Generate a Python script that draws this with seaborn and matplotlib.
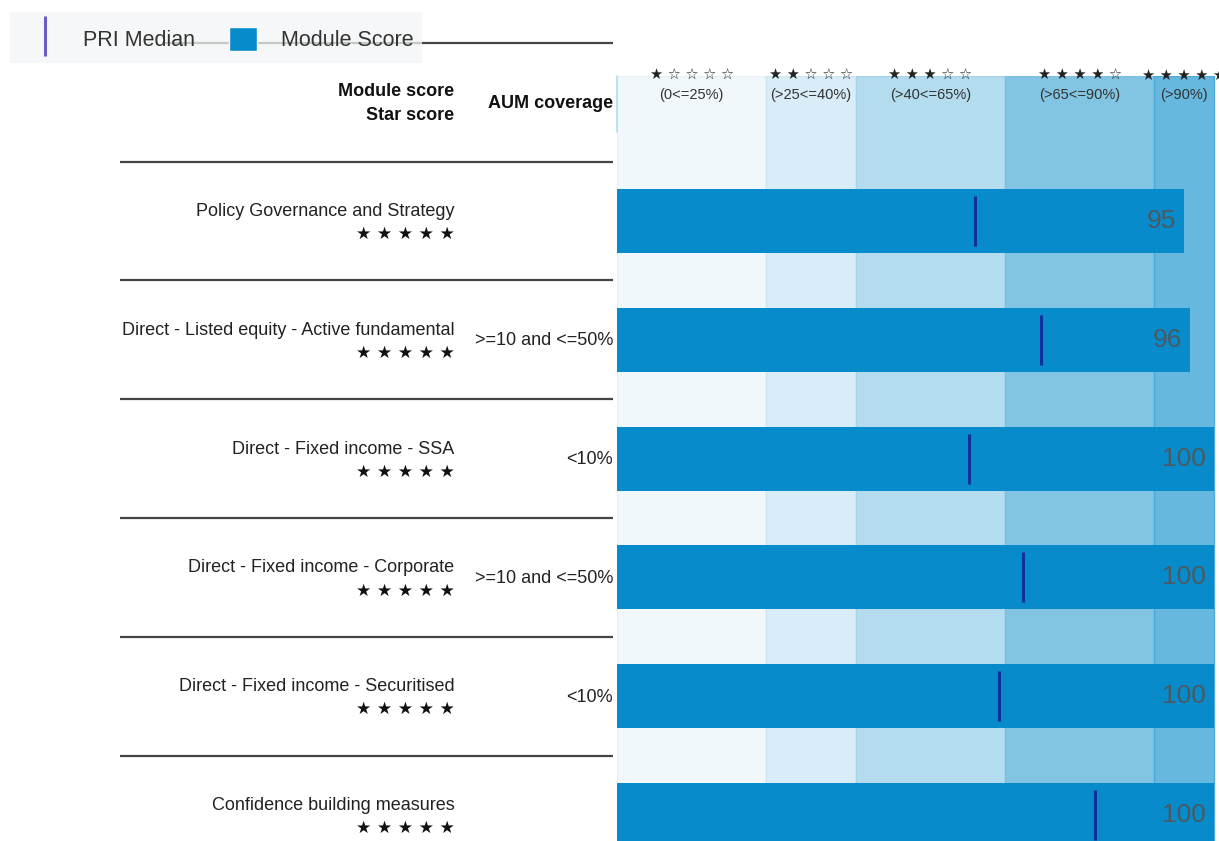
import numpy as np
import pandas as pd
import matplotlib.pyplot as plt
import seaborn as sns
from matplotlib.lines import Line2D
from matplotlib.patches import Patch, Rectangle

# ----- data -----
modules = [
    "Policy Governance and Strategy",
    "Direct - Listed equity - Active fundamental",
    "Direct - Fixed income - SSA",
    "Direct - Fixed income - Corporate",
    "Direct - Fixed income - Securitised",
    "Confidence building measures",
]
scores = [95, 96, 100, 100, 100, 100]
pri_median = [60, 71, 59, 68, 64, 80]
star_counts = [5, 5, 5, 5, 5, 5]
aum_coverage = ["", ">=10 and <=50%", "<10%", ">=10 and <=50%", "<10%", ""]

band_edges = [0, 25, 40, 65, 90, 100]
band_labels = ["(0<=25%)", "(>25<=40%)", "(>40<=65%)", "(>65<=90%)", "(>90%)"]
band_colors = ["#f1f8fc", "#d8edf7", "#b3ddee", "#82c5e3", "#66b8de"]
band_edge_colors = ["#e4f1f9", "#cbe6f3", "#a3d4ea", "#78bfe0", "#4eaad8"]

bar_color = "#078bca"
median_color = "#12309c"
legend_line_color = "#6a5fc0"


def star_string(n, sep=" "):
    return sep.join(["\u2605"] * n + ["\u2606"] * (5 - n))


sns.set_style("white")
plt.rcParams["font.family"] = ["Liberation Sans", "DejaVu Sans"]

W, H = 1219, 841
fig = plt.figure(figsize=(W / 100, H / 100), dpi=100)
ax = fig.add_axes([617 / W, 0, (W - 617) / W, (H - 76) / H])

# background star bands
for lo, hi, c, ec in zip(band_edges[:-1], band_edges[1:], band_colors, band_edge_colors):
    ax.axvspan(lo, hi, facecolor=c, edgecolor=ec, lw=1, zorder=0)

# module score bars
df = pd.DataFrame({"module": modules, "score": scores})
sns.barplot(data=df, x="score", y="module", orient="h", color=bar_color,
            saturation=1, width=0.54, linewidth=0, ax=ax, zorder=2)

ys = np.arange(len(modules))
ax.vlines(pri_median, ys - 0.21, ys + 0.21, color=median_color, lw=2.2, zorder=3)

for i, s in enumerate(scores):
    ax.text(s - 1.4, i, f"{s}", ha="right", va="center", fontsize=19,
            color="#4b5962", zorder=4)

ax.set_xlim(0, 100.84)
ax.set_ylim(5.219, -1.2205)
ax.axis("off")

# band header: stars + ranges
for k, (lo, hi, lab) in enumerate(zip(band_edges[:-1], band_edges[1:], band_labels)):
    cx = (lo + hi) / 2
    ax.text(cx, -1.226, star_string(k + 1), ha="center", va="center",
            fontsize=10.5, color="#222222", family="DejaVu Sans", clip_on=False)
    ax.text(cx, -1.062, lab, ha="center", va="center", fontsize=10.5,
            color="#333333", clip_on=False)

ax.plot([0, 0], [-1.22, -0.75], color="#b5dcee", lw=1.2, clip_on=False, zorder=1)

# left side table
ax.text(-27.2, -1.086, "Module score", ha="right", va="center", fontsize=13,
        weight="bold", color="#111111")
ax.text(-27.2, -0.884, "Star score", ha="right", va="center", fontsize=13,
        weight="bold", color="#111111")
ax.text(-0.67, -0.993, "AUM coverage", ha="right", va="center", fontsize=13,
        weight="bold", color="#111111")

for i, (name, n, aum) in enumerate(zip(modules, star_counts, aum_coverage)):
    ax.text(-27.2, i - 0.08, name, ha="right", va="center", fontsize=13,
            color="#222222")
    ax.text(-27.2, i + 0.11, star_string(n), ha="right", va="center",
            fontsize=12.3, color="#111111", family="DejaVu Sans")
    if aum:
        ax.text(-0.67, i + 0.01, aum, ha="right", va="center", fontsize=13,
                color="#222222")

# separator lines
ax.hlines([-0.5 + k for k in range(len(modules))], -83.25, -0.67,
          color="#444444", lw=1.6, clip_on=False)
ax.hlines(-1.5, -75.7, -0.67, color="#444444", lw=1.6, clip_on=False)

# legend
bg = Rectangle((10 / W, 1 - 63 / H), 412 / W, 51 / H, transform=fig.transFigure,
               facecolor="#f3f5f6", alpha=0.75, edgecolor="none", zorder=1)
fig.add_artist(bg)
handles = [
    Line2D([], [], color=legend_line_color, marker="|", linestyle="none",
           markersize=29, markeredgewidth=2.2),
    Patch(facecolor=bar_color),
]
fig.legend(handles, ["PRI Median", "Module Score"], loc="center left",
           bbox_to_anchor=(31 / W, 1 - 39 / H), ncol=2, frameon=False,
           fontsize=15.5, handlelength=1.3, handleheight=1.35,
           handletextpad=1.1, columnspacing=1.6, borderpad=0,
           borderaxespad=0, labelcolor="#333333")

fig.savefig("out.png", dpi=100)
